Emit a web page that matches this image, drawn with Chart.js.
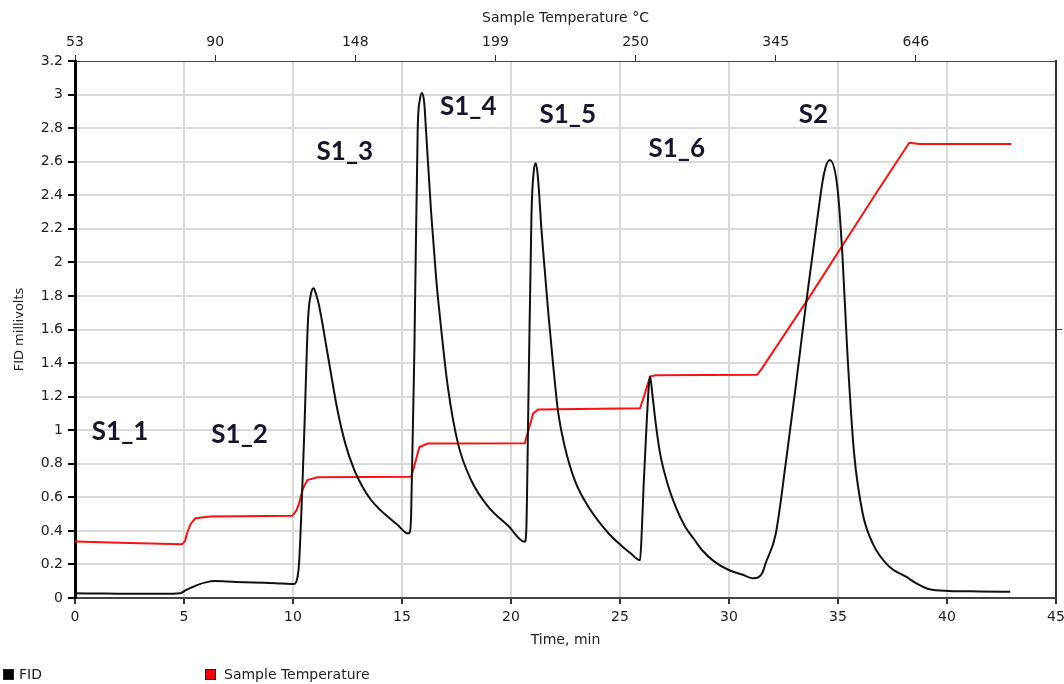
<!DOCTYPE html>
<html>
<head>
<meta charset="utf-8">
<title>FID / Sample Temperature</title>
<script src="https://cdn.jsdelivr.net/npm/chart.js@4.4.0/dist/chart.umd.min.js"></script>
<style>
  html, body { margin: 0; padding: 0; background: #fff; }
  #wrap { position: relative; width: 1064px; height: 684px; }
  #legend { position: absolute; left: 0; top: 666px; font: 14px "DejaVu Sans", sans-serif; color: #222; }
  .item { position: absolute; top: 0; white-space: nowrap; }
  .box { display: inline-block; width: 9px; height: 9px; border: 1px solid #222; margin-right: 5px; vertical-align: -1px; }
</style>
</head>
<body>
<div id="wrap">
  <canvas id="fidChart" width="1064" height="684"></canvas>
  <div id="legend">
    <span class="item" style="left:3px"><span class="box" style="background:#000"></span>FID</span>
    <span class="item" style="left:205px"><span class="box" style="background:#ff0000;margin-right:8px"></span>Sample Temperature</span>
  </div>
</div>
<script>
// FID signal, millivolts vs time (min)
const fidTime = [0, 1, 2, 3, 4, 4.83, 5.06, 5.3, 5.6, 6.0, 6.4, 7.0, 8.2, 9.2, 10.05,
  10.2, 10.28, 10.51, 10.69, 10.82, 10.94, 11.06, 11.2, 11.58, 12.04, 12.4, 12.81, 13.2, 13.58, 14.0, 14.34, 14.8, 15.26,
  15.35, 15.42, 15.57, 15.72, 15.82, 15.92, 16.02, 16.1, 16.34, 16.57, 16.8, 17.1, 17.57, 18.18, 18.95, 19.87, 20.63,
  20.7, 20.79, 20.94, 21.05, 21.14, 21.24, 21.4, 21.56, 21.71, 21.94, 22.17, 22.47, 22.93, 23.55, 24.47, 25.08, 25.5, 25.92,
  26.0, 26.08, 26.23, 26.32, 26.38, 26.48, 26.62, 26.84, 27.23, 27.6, 27.99, 28.4, 28.76, 29.3, 29.99, 30.6, 31.14,
  31.52, 31.68, 32.14, 32.6, 33.06, 33.52, 33.98, 34.36, 34.62, 34.97, 35.2, 35.43, 35.74, 36.13, 36.59, 37.35,
  38.12, 38.58, 39.19, 40.11, 41.5, 42.9];
const fidValue = [0.028, 0.027, 0.026, 0.026, 0.025, 0.028, 0.045, 0.06, 0.077, 0.093, 0.101, 0.098, 0.092, 0.088, 0.083,
  0.12, 0.21, 0.96, 1.66, 1.81, 1.846, 1.81, 1.74, 1.46, 1.12, 0.92, 0.763, 0.66, 0.584, 0.525, 0.485, 0.435, 0.385,
  0.39, 0.5, 1.5, 2.79, 2.97, 3.01, 2.95, 2.79, 2.29, 1.9, 1.6, 1.26, 0.92, 0.7, 0.544, 0.43, 0.335,
  0.4, 1.1, 2.29, 2.55, 2.59, 2.5, 2.19, 1.935, 1.7, 1.38, 1.1, 0.9, 0.7, 0.544, 0.386, 0.31, 0.265, 0.225,
  0.4, 0.66, 1.06, 1.26, 1.32, 1.22, 1.06, 0.86, 0.66, 0.53, 0.425, 0.35, 0.286, 0.22, 0.167, 0.14, 0.117,
  0.147, 0.207, 0.38, 0.8, 1.26, 1.74, 2.19, 2.53, 2.61, 2.45, 2.05, 1.46, 0.86, 0.505, 0.326, 0.187,
  0.127, 0.088, 0.052, 0.042, 0.039, 0.037];

// Sample temperature trace (plotted on the FID scale)
const tempTime = [0, 2.5, 4.91, 5.05, 5.14, 5.3, 5.52, 6.21, 9.97, 10.15, 10.28, 10.45, 10.66, 11.12, 15.42,
  15.55, 15.8, 16.18, 20.63, 20.8, 21.02, 21.25, 25.92, 26.1, 26.38, 26.62, 31.29, 31.52, 33.67, 36.74, 38.27, 38.73, 42.95];
const tempValue = [0.336, 0.328, 0.32, 0.34, 0.386, 0.44, 0.475, 0.485, 0.49, 0.52, 0.564, 0.65, 0.703, 0.719, 0.723,
  0.78, 0.9, 0.92, 0.922, 1.0, 1.1, 1.124, 1.13, 1.2, 1.32, 1.327, 1.33, 1.37, 1.79, 2.41, 2.713, 2.706, 2.706];

// top axis: temperature readings at seven evenly spaced marks
const tempTickLabels = ['53', '90', '148', '199', '250', '345', '646'];

// peak labels
const peakNames = ['S1_1', 'S1_2', 'S1_3', 'S1_4', 'S1_5', 'S1_6', 'S2'];
const peakNameTime = [2.07, 7.55, 12.38, 18.04, 22.6, 27.6, 33.87];
const peakNameLevel = [0.99, 0.975, 2.66, 2.93, 2.88, 2.68, 2.88];

const T_MAX = 45;
const FONT = '"DejaVu Sans", sans-serif';
const gridGray = '#d9d9d9';

const peakLabelPlugin = {
  id: 'peakLabels',
  afterDatasetsDraw(chart) {
    const { ctx, scales: { x, y } } = chart;
    ctx.save();
    ctx.font = 'bold 26px Lato, "Open Sans", sans-serif';
    ctx.fillStyle = '#14162e';
    ctx.textAlign = 'center';
    ctx.textBaseline = 'middle';
    peakNames.forEach((name, i) => {
      ctx.fillText(name, x.getPixelForValue(peakNameTime[i]), y.getPixelForValue(peakNameLevel[i]));
    });
    ctx.restore();
  }
};

function edgeTransparent(lo, hi) {
  return (c) => (c.tick && (Math.abs(c.tick.value - lo) < 1e-6 || Math.abs(c.tick.value - hi) < 1e-6)) ? 'rgba(0,0,0,0)' : gridGray;
}

// fixed box sizes, no extra room for overhanging labels
function fixBox(w, h) {
  return (s) => {
    if (w !== null) s.width = w;
    if (h !== null) s.height = h;
    s.paddingLeft = s.paddingRight = s.paddingTop = s.paddingBottom = 0;
  };
}

const ctx = document.getElementById('fidChart').getContext('2d');
new Chart(ctx, {
  type: 'line',
  data: {
    datasets: [{
      label: 'FID',
      data: fidTime.map((t, i) => ({ x: t, y: fidValue[i] })),
      borderColor: '#111',
      borderWidth: 2,
      pointRadius: 0,
      cubicInterpolationMode: 'monotone'
    }, {
      label: 'Sample Temperature',
      data: tempTime.map((t, i) => ({ x: t, y: tempValue[i] })),
      borderColor: '#ff1010',
      borderWidth: 2,
      pointRadius: 0,
      tension: 0
    }]
  },
  options: {
    responsive: false,
    animation: false,
    layout: { padding: 0 },
    plugins: { legend: { display: false }, tooltip: { enabled: false } },
    scales: {
      x: {
        type: 'linear', position: 'bottom', min: 0, max: T_MAX,
        afterFit: fixBox(null, 86),
        ticks: { stepSize: 5, color: '#222', font: { family: FONT, size: 14 }, padding: 5, maxRotation: 0 },
        grid: { color: edgeTransparent(0, T_MAX), lineWidth: 2, tickColor: '#333', tickLength: 6 },
        border: { color: '#444', width: 2 },
        title: { display: true, text: 'Time, min', color: '#222', font: { family: FONT, size: 14 }, padding: { top: 0, bottom: 35 } }
      },
      xTop: {
        type: 'linear', position: 'top', min: 0, max: T_MAX,
        afterFit: fixBox(null, 61),
        afterBuildTicks(s) { s.ticks = tempTickLabels.map((_, i) => ({ value: i * T_MAX / 7 })); },
        ticks: {
          color: '#222', font: { family: FONT, size: 14 }, padding: 4, maxRotation: 0, autoSkip: false,
          callback: (v, i) => tempTickLabels[i]
        },
        grid: { drawOnChartArea: false, tickColor: '#333', tickLength: 6 },
        border: { color: '#444', width: 1 },
        title: { display: true, text: 'Sample Temperature °C', color: '#222', font: { family: FONT, size: 14 }, padding: { top: 10, bottom: 0 } }
      },
      y: {
        type: 'linear', position: 'left', min: 0, max: 3.2,
        afterFit: fixBox(75, null),
        ticks: {
          stepSize: 0.2, color: '#222', font: { family: FONT, size: 14 }, padding: 5,
          callback: (v) => String(Math.round(v * 10) / 10)
        },
        grid: { color: edgeTransparent(0, 3.2), lineWidth: 2, tickColor: '#000', tickLength: 7 },
        border: { color: '#000', width: 3 },
        title: { display: true, text: 'FID millivolts', color: '#222', font: { family: FONT, size: 13 }, padding: { top: 12, bottom: 0 } }
      },
      yRight: {
        type: 'linear', position: 'right', min: 0, max: 3.2,
        afterFit: fixBox(8, null),
        afterBuildTicks(s) { s.ticks = [{ value: 1.6 }]; },
        ticks: { display: false },
        grid: { drawOnChartArea: false, tickColor: '#333', tickLength: 6 },
        border: { color: '#333', width: 2 }
      }
    }
  },
  plugins: [peakLabelPlugin]
});
</script>
</body>
</html>
